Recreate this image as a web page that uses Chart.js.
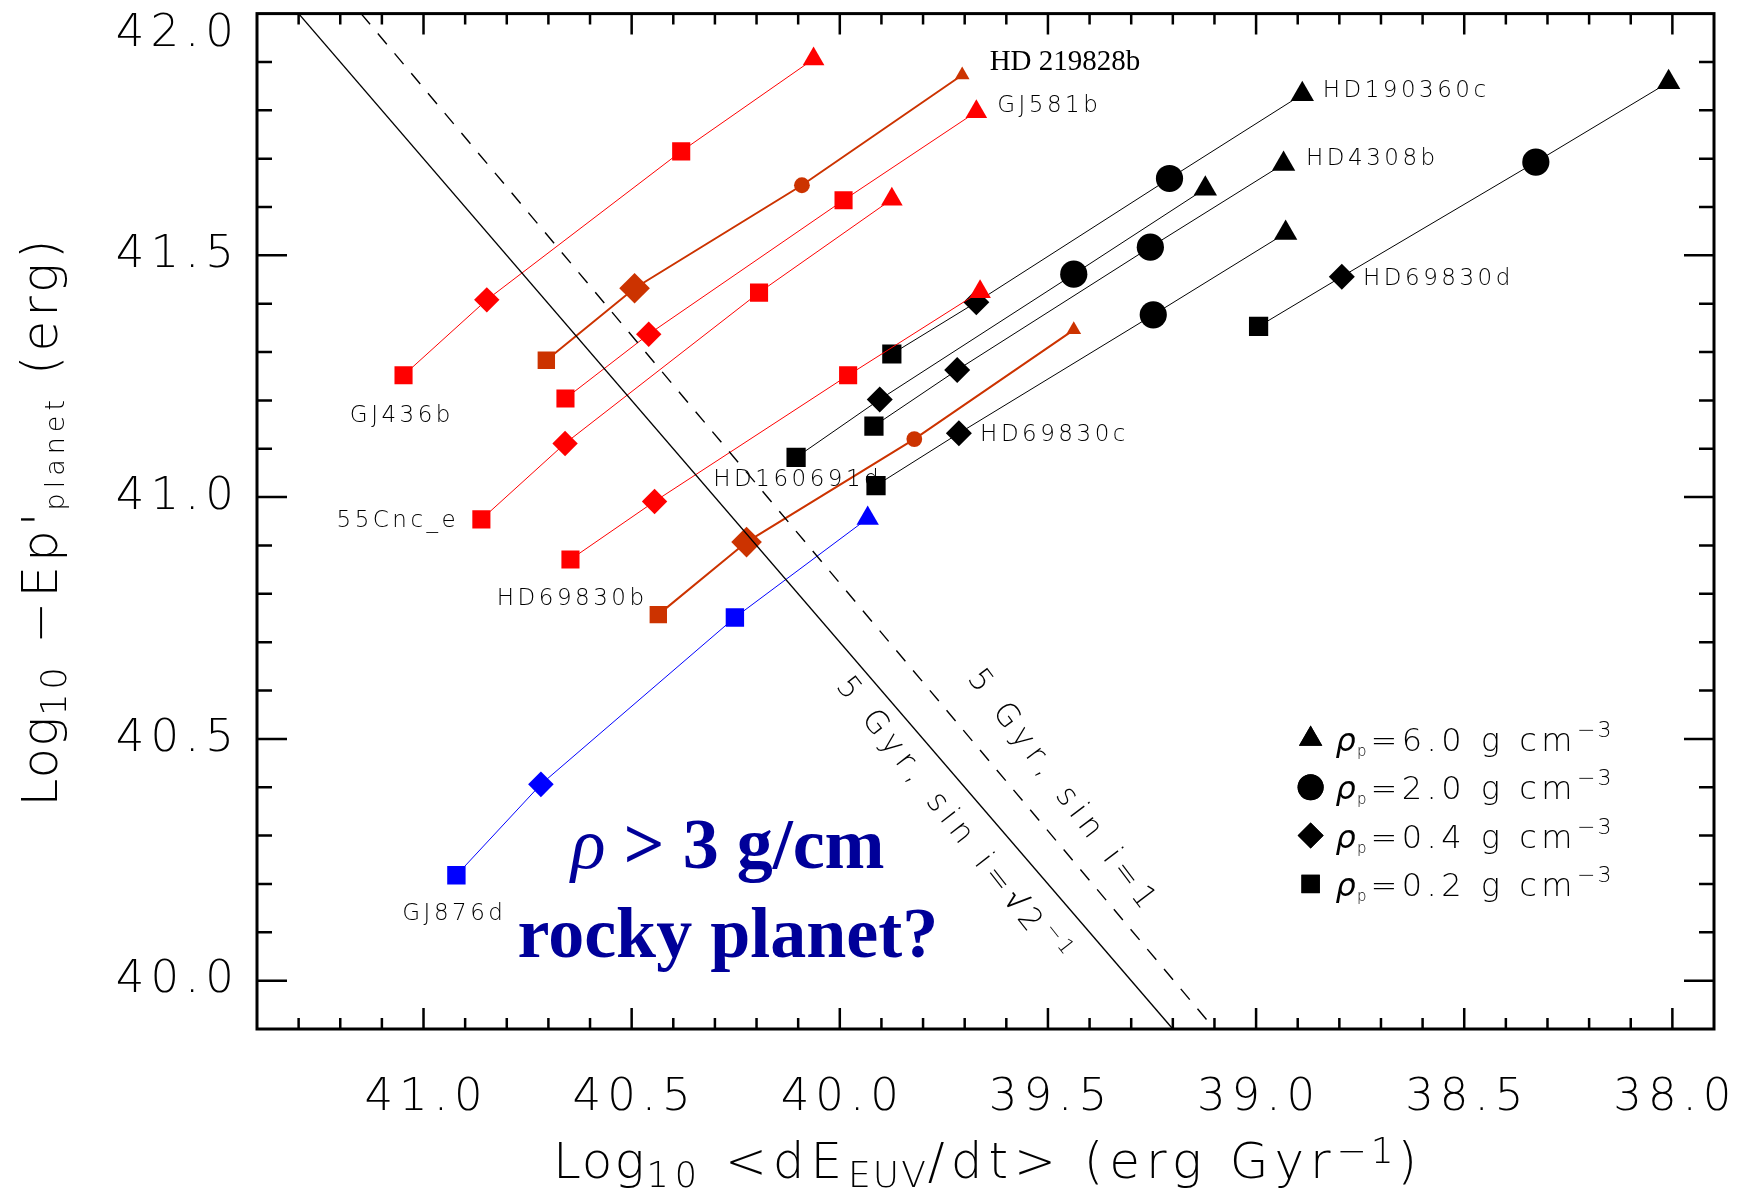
<!DOCTYPE html>
<html lang="en">
<head>
<meta charset="UTF-8">
<title>Evaporation status of close-in planets</title>
<script src="https://cdn.jsdelivr.net/npm/chart.js"></script>
<style>
  html, body { margin: 0; padding: 0; background: #fff; }
  canvas { display: block; }
</style>
</head>
<body>
<canvas id="evapChart" width="1753" height="1195"></canvas>
<script>
// axis ticks (x axis runs from high to low values)
const xTicks = [41.0, 40.5, 40.0, 39.5, 39.0, 38.5, 38.0];
const yTicks = [40.0, 40.5, 41.0, 41.5, 42.0];

// each track: density 0.2, 0.4, 2.0, 6.0 g cm-3
const gj436bX = [41.048, 40.848, 40.381, 40.063];
const gj436bY = [41.252, 41.408, 41.715, 41.906];
const hd219828bX = [40.705, 40.493, 40.091, 39.706];
const hd219828bY = [41.283, 41.432, 41.645, 41.873];
const gj581bX = [40.659, 40.459, 39.991, 39.672];
const gj581bY = [41.204, 41.337, 41.614, 41.797];
const cnc55eX = [40.861, 40.660, 40.194, 39.875];
const cnc55eY = [40.954, 41.111, 41.423, 41.616];
const redTrackX = [40.647, 40.445, 39.980, 39.663];
const redTrackY = [40.871, 40.991, 41.252, 41.425];
const hd69830bX = [40.436, 40.224, 39.821, 39.438];
const hd69830bY = [40.757, 40.907, 41.120, 41.346];
const gj876dX = [40.921, 40.718, 40.252, 39.933];
const gj876dY = [40.218, 40.406, 40.751, 40.956];
const hd160691dX = [40.105, 39.904, 39.438, 39.122];
const hd160691dY = [41.082, 41.202, 41.461, 41.638];
const hd190360cX = [39.875, 39.672, 39.208, 38.889];
const hd190360cY = [41.296, 41.403, 41.659, 41.833];
const hd4308bX = [39.918, 39.718, 39.254, 38.934];
const hd4308bY = [41.147, 41.263, 41.517, 41.689];
const hd69830cX = [39.913, 39.714, 39.247, 38.929];
const hd69830cY = [41.024, 41.132, 41.377, 41.546];
const hd69830dX = [38.994, 38.794, 38.328, 38.009];
const hd69830dY = [41.353, 41.456, 41.693, 41.858];

// 5 Gyr lifetime limits
const limitSqrtX = [41.30, 39.20];
const limitSqrtY = [42.00, 39.90];
const limitOneX = [41.15, 39.10];
const limitOneY = [42.00, 39.90];

// planet name labels
const labelNames = ['GJ436b', '55Cnc_e', 'HD69830b', 'GJ876d', 'HD160691d', 'HD69830c', 'GJ581b', 'HD190360c', 'HD4308b', 'HD69830d'];
const labelX = [41.177, 41.209, 40.824, 41.051, 40.304, 39.663, 39.622, 38.840, 38.880, 38.743];
const labelY = [41.168, 40.950, 40.789, 40.137, 41.036, 41.129, 41.808, 41.840, 41.699, 41.452];

const densityValues = ['6.0', '2.0', '0.4', '0.2'];
const densityMarkers = ['triangle', 'circle', 'rectRot', 'rect'];

const RED = '#ff0000', ORANGE = '#cc3300', BLUE = '#0000ff', BLACK = '#000000';
const HF = '"DejaVu Sans", "Liberation Sans", sans-serif';

function pts(xs, ys) {
  return xs.map((x, i) => ({ x: x, y: ys[i] }));
}

function track(xs, ys, color, width, styles, radii) {
  return {
    data: pts(xs, ys),
    showLine: true,
    borderColor: color,
    borderWidth: width,
    backgroundColor: color,
    pointBackgroundColor: color,
    pointBorderColor: color,
    pointBorderWidth: 0,
    pointStyle: styles,
    pointRadius: radii
  };
}

function limit(xs, ys, dash) {
  return {
    data: pts(xs, ys),
    showLine: true,
    borderColor: BLACK,
    borderWidth: 1.4,
    borderDash: dash,
    pointRadius: 0
  };
}

const redStyle = ['rect', 'rectRot', 'rect', 'triangle'];
const redSize = [12.8, 12.7, 12.8, 12.5];
const orangeStyle = ['rect', 'rectRot', 'circle', 'triangle'];
const orangeSize = [12.3, 15.3, 7.9, 8.5];
const blackStyle = ['rect', 'rectRot', 'circle', 'triangle'];
const blackSize = [13.6, 13, 13.6, 13.5];

function richText(ctx, parts, x, y, align) {
  let total = 0;
  for (const p of parts) {
    ctx.font = p.font;
    ctx.letterSpacing = (p.ls || 0) + 'px';
    p.w = ctx.measureText(p.t).width;
    total += p.w;
  }
  let cx = x;
  if (align === 'center') cx -= total / 2;
  if (align === 'right') cx -= total;
  for (const p of parts) {
    ctx.font = p.font;
    ctx.letterSpacing = (p.ls || 0) + 'px';
    ctx.fillText(p.t, cx, y + (p.dy || 0));
    cx += p.w;
  }
}

function marker(ctx, style, r, x, y) {
  if (Chart.helpers && Chart.helpers.drawPoint) {
    Chart.helpers.drawPoint(ctx, { pointStyle: style, radius: r, borderWidth: 0, rotation: 0 }, x, y);
    ctx.fill();
  }
}

const framePlugin = {
  id: 'frame',
  afterDatasetsDraw(chart) {
    const { ctx, chartArea: a, scales: { x, y } } = chart;
    ctx.save();
    ctx.strokeStyle = BLACK;
    ctx.lineWidth = 3;
    ctx.strokeRect(a.left, a.top, a.right - a.left, a.bottom - a.top);
    ctx.lineWidth = 2.5;
    ctx.beginPath();
    for (let k = 380; k <= 413; k++) {
      const px = x.getPixelForValue(k / 10);
      const len = k % 5 === 0 ? 21 : 11;
      ctx.moveTo(px, a.bottom); ctx.lineTo(px, a.bottom - len);
      ctx.moveTo(px, a.top); ctx.lineTo(px, a.top + len);
    }
    for (let k = 400; k <= 419; k++) {
      const py = y.getPixelForValue(k / 10);
      const len = k % 5 === 0 ? 30 : 15;
      ctx.moveTo(a.left, py); ctx.lineTo(a.left + len, py);
      ctx.moveTo(a.right, py); ctx.lineTo(a.right - len, py);
    }
    ctx.stroke();
    ctx.restore();
  }
};

const textPlugin = {
  id: 'texts',
  afterDraw(chart) {
    const { ctx, chartArea: a, scales: { x, y } } = chart;
    ctx.save();
    ctx.fillStyle = BLACK;

    // tick labels
    ctx.font = '300 45px ' + HF;
    ctx.letterSpacing = '6px';
    ctx.textBaseline = 'alphabetic';
    ctx.textAlign = 'center';
    xTicks.forEach(v => ctx.fillText(v.toFixed(1), x.getPixelForValue(v) + 3, 1110));
    ctx.textAlign = 'right';
    ctx.textBaseline = 'middle';
    yTicks.forEach(v => ctx.fillText(v.toFixed(1), 240, Math.max(y.getPixelForValue(v), a.top + 21)));

    // axis titles
    ctx.textAlign = 'left';
    ctx.textBaseline = 'alphabetic';
    const big = '300 50px ' + HF, sub = '300 35px ' + HF;
    richText(ctx, [
      { t: 'Log', font: big, ls: 2 },
      { t: '10', font: sub, dy: 9, ls: 6 },
      { t: ' <dE', font: big, ls: 6 },
      { t: 'EUV', font: '300 36px ' + HF, dy: 9, ls: 2 },
      { t: '/dt> (erg Gyr', font: big, ls: 6 },
      { t: '\u22121', font: '300 36px ' + HF, dy: -15, ls: 4 },
      { t: ')', font: big }
    ], 985, 1178, 'center');

    ctx.save();
    ctx.translate(57, 521);
    ctx.rotate(-Math.PI / 2);
    richText(ctx, [
      { t: 'Log', font: big, ls: 1 },
      { t: '10', font: sub, dy: 9, ls: 4 },
      { t: ' \u2212Ep', font: big, ls: 4 },
      { t: '\'', font: big, ls: 2 },
      { t: 'planet', font: '300 27px ' + HF, dy: 7, ls: 5 },
      { t: ' (erg)', font: big, ls: 4 }
    ], 0, 0, 'center');
    ctx.restore();

    // planet labels
    ctx.font = '300 23px ' + HF;
    ctx.letterSpacing = '3.5px';
    ctx.textAlign = 'left';
    ctx.textBaseline = 'middle';
    labelNames.forEach((n, i) => ctx.fillText(n, x.getPixelForValue(labelX[i]), y.getPixelForValue(labelY[i])));
    ctx.letterSpacing = '0px';
    ctx.font = '29px "Liberation Serif", "Times New Roman", serif';
    ctx.fillText('HD 219828b', x.getPixelForValue(39.640), y.getPixelForValue(41.900));

    // rotated limit labels
    const rot = [
      { x: 39.732, y: 40.329, ang: 52, parts: [
        { t: '5 Gyr, sin i=\u221a2', font: '300 31px ' + HF, ls: 6 },
        { t: '\u22121', font: '300 21px ' + HF, dy: -12, ls: 3 }] },
      { x: 39.465, y: 40.390, ang: 53, parts: [
        { t: '5 Gyr, sin i=1', font: '300 31px ' + HF, ls: 6 }] }
    ];
    ctx.textBaseline = 'middle';
    rot.forEach(r => {
      ctx.save();
      ctx.translate(x.getPixelForValue(r.x), y.getPixelForValue(r.y));
      ctx.rotate(r.ang * Math.PI / 180);
      richText(ctx, r.parts, 0, 0, 'center');
      ctx.restore();
    });

    // rocky planet note
    ctx.fillStyle = '#000099';
    ctx.textBaseline = 'alphabetic';
    const serifB = 'bold 72px "Liberation Serif", "Times New Roman", serif';
    richText(ctx, [
      { t: '\u03c1', font: 'italic 72px "Liberation Serif", serif' },
      { t: ' > 3 g/cm', font: serifB }
    ], x.getPixelForValue(40.269), y.getPixelForValue(40.233), 'center');
    richText(ctx, [{ t: 'rocky planet?', font: serifB }],
      x.getPixelForValue(40.269), y.getPixelForValue(40.048), 'center');

    // density key
    ctx.fillStyle = BLACK;
    const keyRad = [13.5, 13, 13, 13];
    densityValues.forEach((d, i) => {
      const rowY = y.getPixelForValue(40.5 - i * 0.1);
      marker(ctx, densityMarkers[i], keyRad[i], x.getPixelForValue(38.869), rowY);
      richText(ctx, [
        { t: '\u03c1', font: 'italic 300 32px ' + HF, ls: 1 },
        { t: 'p', font: '300 15px ' + HF, dy: 5, ls: 4 },
        { t: '=' + d + ' g cm', font: '300 32px ' + HF, ls: 4.5 },
        { t: '\u22123', font: '300 22px ' + HF, dy: -14, ls: 2 }
      ], x.getPixelForValue(38.809), rowY + 12, 'left');
    });
    ctx.restore();
  }
};

const ctx = document.getElementById('evapChart').getContext('2d');
const chart = new Chart(ctx, {
  type: 'scatter',
  data: {
    datasets: [
      limit(limitSqrtX, limitSqrtY, []),
      limit(limitOneX, limitOneY, [14, 12]),
      track(gj436bX, gj436bY, RED, 1, redStyle, redSize),
      track(gj581bX, gj581bY, RED, 1, redStyle, redSize),
      track(cnc55eX, cnc55eY, RED, 1, redStyle, redSize),
      track(redTrackX, redTrackY, RED, 1, redStyle, redSize),
      track(hd219828bX, hd219828bY, ORANGE, 2, orangeStyle, orangeSize),
      track(hd69830bX, hd69830bY, ORANGE, 2, orangeStyle, orangeSize),
      track(gj876dX, gj876dY, BLUE, 1, redStyle, [13, 12.8, 13, 12.9]),
      track(hd160691dX, hd160691dY, BLACK, 1, blackStyle, blackSize),
      track(hd190360cX, hd190360cY, BLACK, 1, blackStyle, blackSize),
      track(hd4308bX, hd4308bY, BLACK, 1, blackStyle, blackSize),
      track(hd69830cX, hd69830cY, BLACK, 1, blackStyle, blackSize),
      track(hd69830dX, hd69830dY, BLACK, 1, blackStyle, blackSize)
    ]
  },
  options: {
    responsive: false,
    animation: false,
    events: [],
    layout: { padding: { top: 8, right: 39, left: 0, bottom: 0 } },
    plugins: { legend: { display: false }, tooltip: { enabled: false } },
    scales: {
      x: {
        type: 'linear',
        min: 37.9,
        max: 41.4,
        reverse: true,
        grid: { display: false, drawTicks: false },
        border: { display: false },
        ticks: { display: false },
        afterFit: s => { s.height = 166; }
      },
      y: {
        type: 'linear',
        min: 39.9,
        max: 42.0,
        grid: { display: false, drawTicks: false },
        border: { display: false },
        ticks: { display: false },
        afterFit: s => { s.width = 257; }
      }
    }
  },
  plugins: [framePlugin, textPlugin]
});
</script>
</body>
</html>
